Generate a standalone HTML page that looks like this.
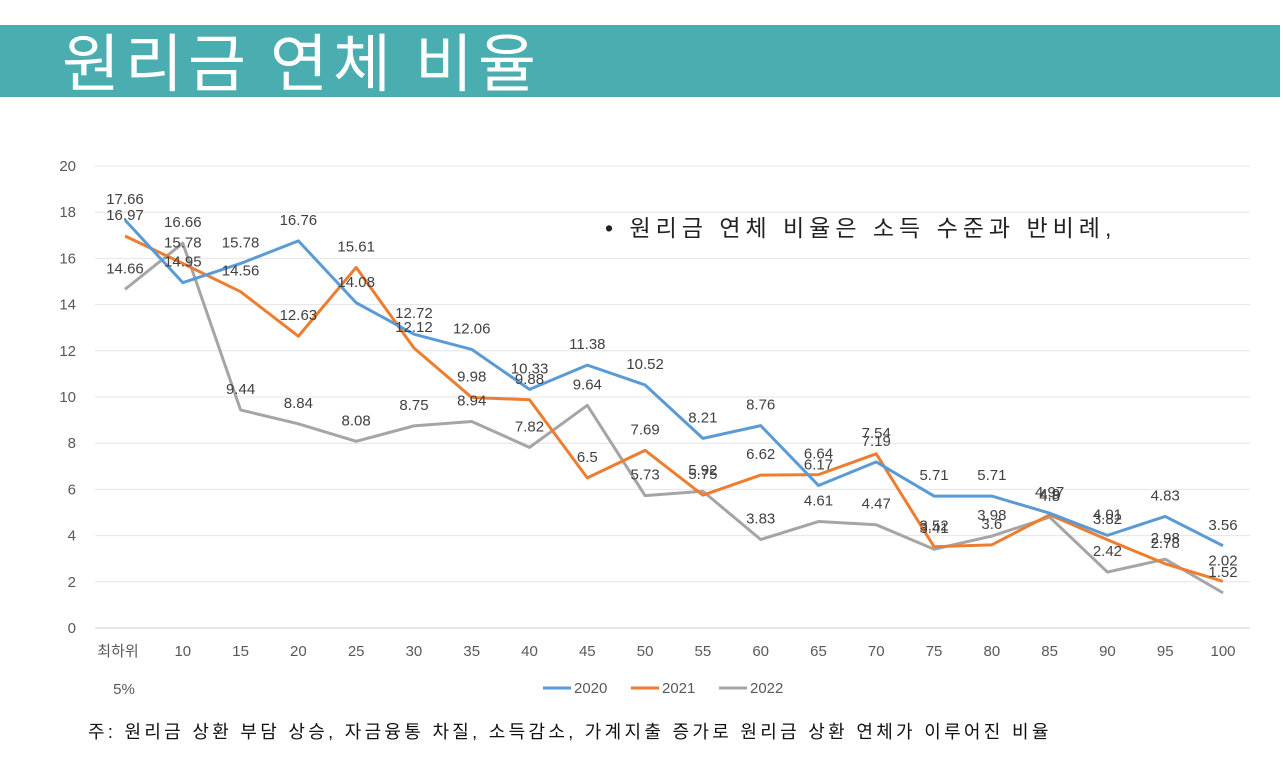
<!DOCTYPE html>
<html><head><meta charset="utf-8"><style>
body{margin:0;width:1283px;height:778px;background:#fff;overflow:hidden;font-family:"Liberation Sans","Noto Sans CJK KR",sans-serif;}
#banner{position:absolute;left:0;top:25px;width:1280px;height:72px;background:#4aaeb0;}
#title{position:absolute;left:62px;top:18px;color:#fff;font-size:63px;letter-spacing:5px;font-family:"Noto Sans CJK KR",sans-serif;line-height:84px;white-space:nowrap;}
svg{position:absolute;left:0;top:0;}
</style></head><body>
<div id="banner"></div>
<div id="title">원리금 연체 비율</div>
<svg id="chart" width="1283" height="778"></svg>
<script>
const categories=["최하위","10","15","20","25","30","35","40","45","50","55","60","65","70","75","80","85","90","95","100"];
const s2020=[17.66,14.95,15.78,16.76,14.08,12.72,12.06,10.33,11.38,10.52,8.21,8.76,6.17,7.19,5.71,5.71,4.97,4.01,4.83,3.56];
const s2021=[16.97,15.78,14.56,12.63,15.61,12.12,9.98,9.88,6.5,7.69,5.75,6.62,6.64,7.54,3.52,3.6,4.9,3.82,2.78,2.02];
const s2022=[14.66,16.66,9.44,8.84,8.08,8.75,8.94,7.82,9.64,5.73,5.92,3.83,4.61,4.47,3.41,3.98,4.8,2.42,2.98,1.52];
const yTicks=[0,2,4,6,8,10,12,14,16,18,20];
const seriesNames=["2020","2021","2022"];
const seriesColors=["#5b9bd5","#ed7d31","#a5a5a5"];
const NS="http://www.w3.org/2000/svg";
const svg=document.getElementById('chart');
const X=i=>125+i*(1223-125)/(categories.length-1);
const Y=v=>628-v*(628-166)/20;
function mk(t,a,txt){const e=document.createElementNS(NS,t);for(const k in a)e.setAttribute(k,a[k]);if(txt!==undefined)e.textContent=txt;svg.appendChild(e);return e;}
yTicks.forEach(v=>{
  const g=mk('line',{x1:95,x2:1250,y1:Y(v),y2:Y(v),stroke:v===0?'#d0d0d0':'#e4e4e4','stroke-width':1});
  
  
  const t=mk('text',{x:76,y:Y(v)+5,'text-anchor':'end','font-size':15,fill:'#595959'},String(v));
  
  
});
categories.forEach((c,i)=>{
  const t=mk('text',{x:X(i)+(i===0?-7:0),y:656,'text-anchor':'middle','font-size':15,fill:'#595959'},c);
  
  
});
const t5=mk('text',{x:124,y:694,'text-anchor':'middle','font-size':15,fill:'#595959'},'5%');


[s2022,s2021,s2020].forEach((s,k)=>{
  const idx=2-k;
  const p=mk('polyline',{points:s.map((v,i)=>X(i)+','+Y(v)).join(' '),fill:'none',stroke:seriesColors[idx],'stroke-width':3,'stroke-linejoin':'round'});
  
  
});
[s2020,s2021,s2022].forEach((s,k)=>{
  s.forEach((v,i)=>{
    const t=mk('text',{x:X(i),y:Y(v)-16,'text-anchor':'middle','font-size':15,fill:'#404040'},String(v));
    
    
  });
});
seriesNames.forEach((n,k)=>{
  const lx=543+k*88;
  const l=mk('line',{x1:lx,x2:lx+28,y1:688,y2:688,stroke:seriesColors[k],'stroke-width':3});
  
  
  const t=mk('text',{x:lx+31,y:693,'font-size':15,fill:'#595959'},n);
  
  
});
const b=mk('text',{x:605,y:236,'font-size':23,fill:'#222','letter-spacing':'5'},'•  원리금 연체 비율은 소득 수준과 반비례,');


const f=mk('text',{x:88,y:738,'font-size':18,fill:'#111','letter-spacing':'3.3'},'주: 원리금 상환 부담 상승, 자금융통 차질, 소득감소, 가계지출 증가로 원리금 상환 연체가 이루어진 비율');


</script>
</body></html>
